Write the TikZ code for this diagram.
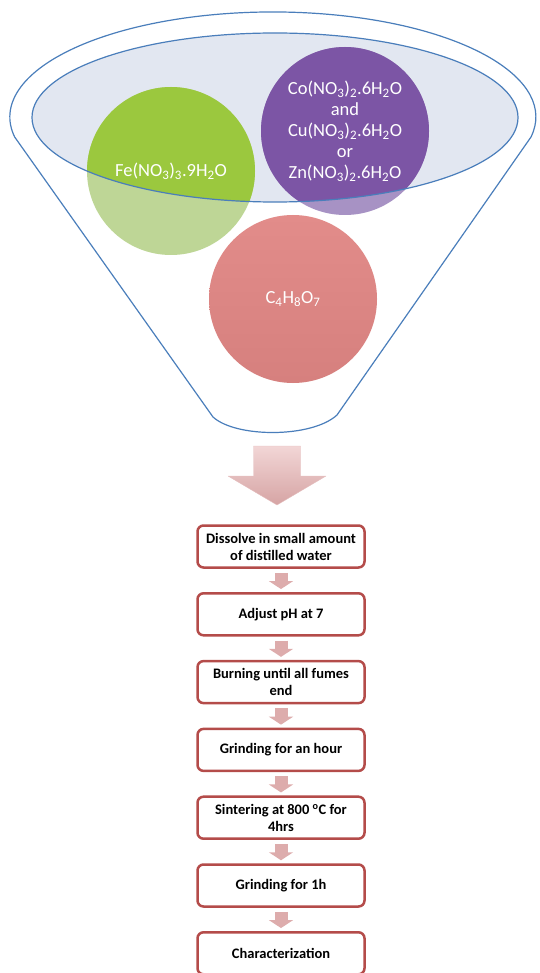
\documentclass[tikz,border=0pt]{standalone}
\usepackage{fontspec}
\setmainfont{Carlito}
\usepackage{tikz}
\usetikzlibrary{arrows.meta}
\definecolor{funnelblue}{RGB}{74,126,187}
\definecolor{bowlfill}{RGB}{226,231,241}
\definecolor{fegreen}{RGB}{155,200,62}
\definecolor{fepale}{RGB}{190,214,150}
\definecolor{copurple}{RGB}{124,85,165}
\definecolor{copale}{RGB}{167,146,196}
\definecolor{acidtop}{RGB}{226,140,138}
\definecolor{acidbot}{RGB}{214,128,126}
\definecolor{boxred}{RGB}{180,76,74}
\definecolor{arrowpink}{RGB}{221,172,172}
\definecolor{arrowtop}{RGB}{242,214,214}
\definecolor{arrowbot}{RGB}{214,164,164}

\begin{document}
\begin{tikzpicture}[x=1pt, y=-1pt, >=Latex,
    ball/.style={circle, minimum size=168pt, inner sep=0pt, text=white, align=center,
      font=\fontsize{18.5}{21}\selectfont},
    stepbox/.style={draw=boxred, line width=2.5pt, rounded corners=6pt, fill=white,
      minimum width=167pt, minimum height=42pt, align=center,
      font=\fontsize{14.5}{17}\selectfont\bfseries},
    steparrow/.style={draw=arrowpink, line width=13pt,
      -{Triangle[width=24pt, length=8pt]}, shorten <=4pt, shorten >=3pt}]
    \useasboundingbox (0,0) rectangle (539,973);
    \coordinate (bowl) at (275,117.5);
    % funnel
    \draw[funnelblue, line width=1.2pt, fill=white, line join=round] (531,137)
      arc[start angle=-11, end angle=191, x radius=263pt, y radius=105pt]
      -- (213,417) .. controls (236,438) and (312,438) .. (337,415) -- cycle;
    \fill[bowlfill] (bowl) ellipse[x radius=243pt, y radius=84.5pt];
    % the three ingredients
    \node[ball, fill=fepale, path picture={
        \fill[fegreen] (bowl) ellipse[x radius=243pt, y radius=84.5pt];}]
      (fe) at (171,171) {Fe(NO\textsubscript{3})\textsubscript{3}.9H\textsubscript{2}O};
    \node[ball, fill=copale, path picture={
        \fill[copurple] (bowl) ellipse[x radius=243pt, y radius=84.5pt];}]
      (co) at (345,131) {Co(NO\textsubscript{3})\textsubscript{2}.6H\textsubscript{2}O\\and\\
        Cu(NO\textsubscript{3})\textsubscript{2}.6H\textsubscript{2}O\\or\\
        Zn(NO\textsubscript{3})\textsubscript{2}.6H\textsubscript{2}O};
    \draw[funnelblue, line width=1.2pt] (bowl) ellipse[x radius=243pt, y radius=84.5pt];
    \node[ball, top color=acidtop, bottom color=acidbot] (acid) at (293,299)
      {C\textsubscript{4}H\textsubscript{8}O\textsubscript{7}};
    % big arrow out of the funnel
    \shade[top color=arrowtop, bottom color=arrowbot,
      draw=arrowpink!80!white, line join=round]
      (253.5,446) -- (300.5,446) -- (300.5,476) -- (326,476) -- (277,505)
      -- (228,476) -- (253.5,476) -- cycle;
    % procedure
    \foreach \txt [count=\i] in {Dissolve in small amount\\of distilled water,
        Adjust pH at 7, Burning until all fumes\\end, Grinding for an hour,
        Sintering at 800 \textsuperscript{o}C for\\4hrs, Grinding for 1h,
        Characterization}
      \node[stepbox] (s\i) at (281,546.5+67.8*\i-67.8) {\txt};
    \foreach \a/\b in {1/2,2/3,3/4,4/5,5/6,6/7}
      \draw[steparrow] (s\a) -- (s\b);
\end{tikzpicture}
\end{document}
